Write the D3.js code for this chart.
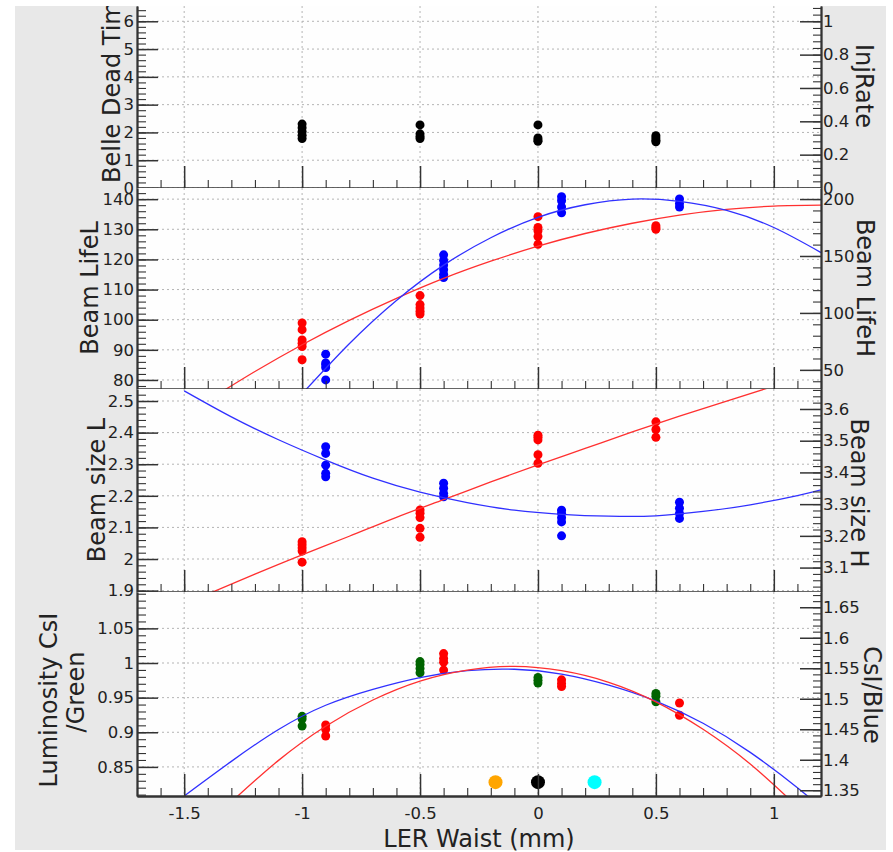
<!DOCTYPE html>
<html>
<head>
<meta charset="utf-8">
<script src="https://cdn.jsdelivr.net/npm/d3@7"></script>
<style>
body { margin: 0; background: #fff; }
text { font-family: "DejaVu Sans", Verdana, sans-serif; }
</style>
</head>
<body>
<div id="chart"></div>
<script>
// x axis: LER waist (mm)
const xDomain = [-1.7, 1.2];
const xMajor = [-1.5, -1, -0.5, 0, 0.5, 1];

// panel 1: Belle dead time (black)
const deadX = [-1, -0.5, 0, 0.5];
const deadVals = [[2.3, 2.17, 2.03, 1.9, 1.78], [2.27, 1.95, 1.85, 1.78], [2.27, 1.8, 1.73, 1.68], [1.88, 1.8, 1.72, 1.66]];

// panel 2: beam lifetime, L on left axis (red), H on right axis (blue)
const lifeLX = [-1, -0.5, 0, 0.5];
const lifeLVals = [[98.9, 96.7, 93.3, 92.2, 91.1, 86.7], [108, 105, 103.9, 102.8, 101.9], [134.2, 130.6, 129.5, 127.6, 125], [131.2, 130.5, 130]];
const lifeHX = [-0.9, -0.4, 0.1, 0.6];
const lifeHVals = [[63.8, 56, 54.4, 52, 41.2], [151, 146, 142, 138, 134, 131], [202, 198.5, 193, 188], [200, 196, 193]];
const lifeLFitX = [-1.4, -1.2, -1, -0.8, -0.6, -0.4, -0.2, 0, 0.2, 0.4, 0.6, 0.8, 1, 1.2];
const lifeLFit = [73.2, 82.8, 91.7, 99.8, 107.1, 113.7, 119.4, 124.4, 128.6, 132.0, 134.7, 136.6, 137.7, 138.0];
const lifeHFitX = [-1, -0.8, -0.6, -0.4, -0.2, 0, 0.2, 0.4, 0.6, 0.8, 1, 1.2];
const lifeHFit = [29, 73, 111, 142, 166, 184, 195, 200, 198, 190, 175, 153];

// panel 3: beam size, L on left axis (red), H on right axis (blue)
const sizeLX = [-1, -0.5, 0, 0.5];
const sizeLVals = [[2.055, 2.045, 2.035, 2.025, 1.99], [2.155, 2.145, 2.131, 2.097, 2.069], [2.392, 2.385, 2.377, 2.33, 2.303], [2.434, 2.41, 2.385]];
const sizeHX = [-0.9, -0.4, 0.1, 0.6];
const sizeHVals = [[3.481, 3.46, 3.423, 3.397, 3.386], [3.366, 3.35, 3.334, 3.323], [3.281, 3.271, 3.257, 3.244, 3.2], [3.306, 3.287, 3.271, 3.255]];
const sizeLFitX = [-1.4, -1.2, -1, -0.8, -0.6, -0.4, -0.2, 0, 0.2, 0.4, 0.6, 0.8, 1];
const sizeLFit = [1.889, 1.952, 2.013, 2.072, 2.132, 2.188, 2.244, 2.298, 2.350, 2.402, 2.452, 2.500, 2.547];
const sizeHFitX = [-1.5, -1.3, -1.1, -0.9, -0.7, -0.5, -0.3, -0.1, 0.1, 0.3, 0.5, 0.7, 0.9, 1.1, 1.2];
const sizeHFit = [3.657, 3.575, 3.503, 3.439, 3.382, 3.338, 3.305, 3.281, 3.268, 3.262, 3.263, 3.277, 3.298, 3.327, 3.345];

// panel 4: luminosity, CsI/Green on left (green), CsI/Blue on right (red)
const lumGX = [-1, -0.5, 0, 0.5];
const lumGVals = [[0.923, 0.919, 0.909], [1.002, 0.998, 0.992, 0.986], [0.979, 0.975, 0.971], [0.956, 0.952, 0.944]];
const lumBX = [-0.9, -0.4, 0.1, 0.6];
const lumBVals = [[1.457, 1.45, 1.439], [1.574, 1.566, 1.56, 1.547], [1.531, 1.525, 1.52], [1.493, 1.473]];
const lumGFitX = [-1.5, -1.3, -1.1, -0.9, -0.7, -0.5, -0.3, -0.1, 0.1, 0.3, 0.5, 0.7, 0.9, 1.1, 1.2];
const lumGFit = [0.808, 0.858, 0.904, 0.939, 0.962, 0.979, 0.989, 0.991, 0.984, 0.968, 0.945, 0.913, 0.871, 0.820, 0.791];
const lumBFitX = [-1.3, -1.1, -0.9, -0.7, -0.5, -0.3, -0.1, 0.1, 0.3, 0.5, 0.7, 0.9, 1.1];
const lumBFit = [1.331, 1.399, 1.455, 1.498, 1.529, 1.547, 1.553, 1.546, 1.527, 1.495, 1.450, 1.393, 1.323];
// markers at the bottom of the luminosity panel (left axis value)
const markX = [-0.18, 0, 0.24];
const markY = 0.828;
const markColors = ["#ffa500", "#000000", "#00ffff"];

// tick values
const leftTicks = [[0, 1, 2, 3, 4, 5, 6], [80, 90, 100, 110, 120, 130, 140], [1.9, 2, 2.1, 2.2, 2.3, 2.4, 2.5], [0.85, 0.9, 0.95, 1, 1.05]];
const rightTicks = [[0, 0.2, 0.4, 0.6, 0.8, 1], [50, 100, 150, 200], [3.1, 3.2, 3.3, 3.4, 3.5, 3.6], [1.35, 1.4, 1.45, 1.5, 1.55, 1.6, 1.65]];
const leftMinorStep = [0.2, 2, 0.02, 0.01];
const rightMinorStep = [0.04, 10, 0.02, 0.01];

const leftTitles = [["Belle Dead Time"], ["Beam LifeL"], ["Beam size L"], ["Luminosity CsI", "/Green"]];
const rightTitles = ["InjRate", "Beam LifeH", "Beam size H", "CsI/Blue"];

// layout
const W = 893, H = 852;
const plotL = 137, plotR = 821;
const panels = [
  {top: 6, bottom: 188, ld: [0, 6.55], rd: [0, 1.0917]},
  {top: 188, bottom: 389, ld: [77, 143.7], rd: [33.2, 209.7]},
  {top: 389, bottom: 592, ld: [1.8956, 2.538], rd: [3.023, 3.663]},
  {top: 592, bottom: 796, ld: [0.808, 1.1025], rd: [1.3406, 1.675]}
];
const series = [
  [{xs: deadX, vals: deadVals, axis: "l", color: "#000"}],
  [{xs: lifeLX, vals: lifeLVals, axis: "l", color: "#ff0000"}, {xs: lifeHX, vals: lifeHVals, axis: "r", color: "#0000ff"}],
  [{xs: sizeLX, vals: sizeLVals, axis: "l", color: "#ff0000"}, {xs: sizeHX, vals: sizeHVals, axis: "r", color: "#0000ff"}],
  [{xs: lumGX, vals: lumGVals, axis: "l", color: "#006400"}, {xs: lumBX, vals: lumBVals, axis: "r", color: "#ff0000"}]
];
const fits = [
  [],
  [{xs: lifeLFitX, ys: lifeLFit, axis: "l", color: "#ff3030"}, {xs: lifeHFitX, ys: lifeHFit, axis: "r", color: "#3030ff"}],
  [{xs: sizeLFitX, ys: sizeLFit, axis: "l", color: "#ff3030"}, {xs: sizeHFitX, ys: sizeHFit, axis: "r", color: "#3030ff"}],
  [{xs: lumGFitX, ys: lumGFit, axis: "l", color: "#3030ff"}, {xs: lumBFitX, ys: lumBFit, axis: "r", color: "#ff3030"}]
];
const leftTitlePos = [
  [{x: 120, y: 183, anchor: "start"}],
  [{x: 98, y: 288, anchor: "middle"}],
  [{x: 105, y: 490, anchor: "middle"}],
  [{x: 57, y: 700, anchor: "middle"}, {x: 84, y: 692, anchor: "middle"}]
];
const rightTitlePos = [{x: 856, y: 86}, {x: 857, y: 288}, {x: 851, y: 493}, {x: 864, y: 695}];

function minorTicks(domain, step) {
  let lo = Math.ceil(domain[0] / step - 1e-9), hi = Math.floor(domain[1] / step + 1e-9);
  return d3.range(lo, hi + 1).map(i => +(i * step).toFixed(6));
}

const svg = d3.select("#chart").append("svg")
    .attr("width", W)
    .attr("height", H);

svg.append("rect")
    .attr("x", 15).attr("y", 6)
    .attr("width", 871).attr("height", 844)
    .attr("fill", "#e8e8e8");

let defs = svg.append("defs");
defs.append("clipPath").attr("id", "canvasClip")
  .append("rect").attr("x", 0).attr("y", 6).attr("width", W).attr("height", H - 6);

let x = d3.scaleLinear().domain(xDomain).range([plotL, plotR]);

panels.forEach(function(p, i) {
  let yl = d3.scaleLinear().domain(p.ld).range([p.bottom, p.top]);
  let yr = d3.scaleLinear().domain(p.rd).range([p.bottom, p.top]);
  let g = svg.append("g");

  defs.append("clipPath").attr("id", "clip" + i)
    .append("rect").attr("x", plotL).attr("y", p.top)
    .attr("width", plotR - plotL).attr("height", p.bottom - p.top);

  g.append("rect")
      .attr("x", plotL).attr("y", p.top)
      .attr("width", plotR - plotL).attr("height", p.bottom - p.top)
      .attr("fill", "#fefefe");

  // grid
  g.selectAll(".gx").data(xMajor).enter().append("line")
      .attr("x1", d => x(d)).attr("x2", d => x(d))
      .attr("y1", p.top).attr("y2", p.bottom)
      .attr("stroke", "#b4b4b4").attr("stroke-dasharray", "2,3");
  g.selectAll(".gy").data(leftTicks[i]).enter().append("line")
      .attr("x1", plotL).attr("x2", plotR)
      .attr("y1", d => yl(d)).attr("y2", d => yl(d))
      .attr("stroke", "#b4b4b4").attr("stroke-dasharray", "2,3");

  let inner = g.append("g").attr("clip-path", `url(#clip${i})`);

  // data points
  series[i].forEach(function(s) {
    let sc = s.axis == "l" ? yl : yr;
    s.xs.forEach(function(xv, j) {
      inner.selectAll(null).data(s.vals[j]).enter().append("circle")
          .attr("cx", x(xv))
          .attr("cy", d => sc(d))
          .attr("r", 4.5)
          .attr("fill", s.color);
    });
  });

  // fit curves
  fits[i].forEach(function(f) {
    let sc = f.axis == "l" ? yl : yr;
    let line = d3.line()
        .x(d => x(d[0]))
        .y(d => sc(d[1]))
        .curve(d3.curveNatural);
    inner.append("path")
        .datum(d3.zip(f.xs, f.ys))
        .attr("d", line)
        .attr("fill", "none")
        .attr("stroke", f.color)
        .attr("stroke-width", 1.3);
  });

  if (i == 3) {
    inner.selectAll(".mark").data(markX).enter().append("circle")
        .attr("cx", d => x(d))
        .attr("cy", yl(markY))
        .attr("r", 7)
        .attr("fill", (d, k) => markColors[k]);
  }

  // axes
  let styleAxis = function(sel, major) {
    sel.selectAll("path.domain").attr("stroke", "#333").attr("stroke-width", 1.8);
    sel.selectAll(".tick line").attr("stroke", "#333").attr("stroke-width", major ? 1.5 : 1.1);
    sel.selectAll("text").attr("font-family", "DejaVu Sans").attr("font-size", 16.5).attr("fill", "#222");
  };

  g.append("g").attr("transform", `translate(${plotL},0)`)
      .call(d3.axisLeft(yl).tickValues(minorTicks(p.ld, leftMinorStep[i])).tickSize(-9).tickSizeOuter(0).tickFormat(""))
      .call(sel => styleAxis(sel, false));
  g.append("g").attr("transform", `translate(${plotL},0)`)
      .call(d3.axisLeft(yl).tickValues(leftTicks[i]).tickSize(-21).tickSizeOuter(0).tickPadding(3).tickFormat(d => String(d)))
      .call(sel => styleAxis(sel, true));

  g.append("g").attr("transform", `translate(${plotR},0)`)
      .call(d3.axisRight(yr).tickValues(minorTicks(p.rd, rightMinorStep[i])).tickSize(-8).tickSizeOuter(0).tickFormat(""))
      .call(sel => styleAxis(sel, false));
  g.append("g").attr("transform", `translate(${plotR},0)`)
      .call(d3.axisRight(yr).tickValues(rightTicks[i]).tickSize(-21).tickSizeOuter(0).tickPadding(2).tickFormat(d => String(d)))
      .call(sel => styleAxis(sel, true));

  g.append("g").attr("transform", `translate(0,${p.bottom})`)
      .call(d3.axisBottom(x).tickValues(minorTicks(xDomain, 0.1)).tickSize(-8).tickSizeOuter(0).tickFormat(""))
      .call(sel => styleAxis(sel, false));
  g.append("g").attr("transform", `translate(0,${p.bottom})`)
      .call(d3.axisBottom(x).tickValues(xMajor).tickSize(-22).tickSizeOuter(0).tickPadding(11)
          .tickFormat(i == 3 ? (d => String(d)) : ""))
      .call(sel => styleAxis(sel, true));

  // titles
  let lt = svg.append("g").attr("clip-path", "url(#canvasClip)");
  leftTitles[i].forEach(function(t, k) {
    let pos = leftTitlePos[i][k];
    lt.append("text")
        .attr("transform", `translate(${pos.x},${pos.y}) rotate(-90)`)
        .attr("text-anchor", pos.anchor)
        .attr("font-size", 24)
        .attr("fill", "#222")
        .text(t);
  });
  svg.append("text")
      .attr("transform", `translate(${rightTitlePos[i].x},${rightTitlePos[i].y}) rotate(90)`)
      .attr("text-anchor", "middle")
      .attr("font-size", 24)
      .attr("fill", "#222")
      .text(rightTitles[i]);
});

svg.append("text")
    .attr("x", (plotL + plotR) / 2)
    .attr("y", 847)
    .attr("text-anchor", "middle")
    .attr("font-size", 24)
    .attr("fill", "#222")
    .text("LER Waist (mm)");
</script>
</body>
</html>
